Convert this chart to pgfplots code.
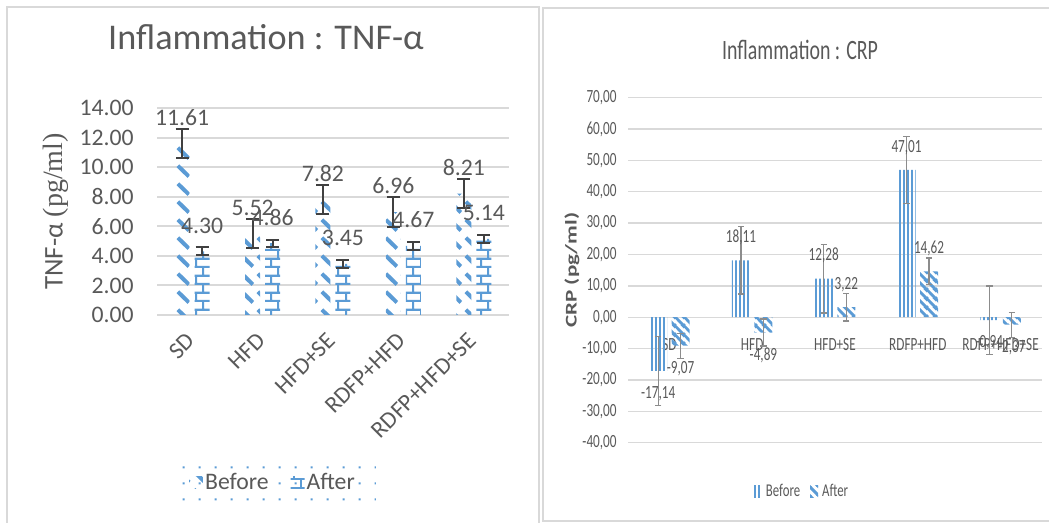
\documentclass[border=0pt]{standalone}
\usepackage{graphicx}
\usepackage{pgfplots}
\pgfplotsset{compat=1.18}
\usetikzlibrary{patterns}
\usepackage{fontspec}
\setmainfont{Carlito}
\newfontfamily\narrowfont[FakeStretch=0.71]{Carlito}
\newfontfamily\seriffont{Liberation Serif}
\definecolor{xlblue}{HTML}{5B9BD5}
\definecolor{txtgray}{HTML}{595959}
\definecolor{gridgray}{HTML}{D9D9D9}
\definecolor{framegray}{HTML}{D9D9D9}
\definecolor{errdark}{HTML}{404040}
\definecolor{errgray}{HTML}{8C8C8C}

\pgfdeclarepatternformonly{dashdiag}{\pgfpointorigin}{\pgfqpoint{8pt}{9pt}}{\pgfqpoint{8pt}{9pt}}{%
  \pgfsetlinewidth{2.1pt}\pgfsetbuttcap
  \pgfpathmoveto{\pgfqpoint{1pt}{8pt}}
  \pgfpathlineto{\pgfqpoint{6.8pt}{2.4pt}}
  \pgfusepath{stroke}}
\pgfdeclarepatternformonly{xbricks}{\pgfpointorigin}{\pgfqpoint{7.5pt}{8.5pt}}{\pgfqpoint{7.5pt}{8.5pt}}{%
  \pgfsetlinewidth{1.1pt}
  \pgfpathmoveto{\pgfqpoint{-1pt}{0.6pt}}\pgfpathlineto{\pgfqpoint{8.5pt}{0.6pt}}
  \pgfpathmoveto{\pgfqpoint{-1pt}{4.85pt}}\pgfpathlineto{\pgfqpoint{8.5pt}{4.85pt}}
  \pgfpathmoveto{\pgfqpoint{0.6pt}{0.6pt}}\pgfpathlineto{\pgfqpoint{0.6pt}{4.85pt}}
  \pgfpathmoveto{\pgfqpoint{4.35pt}{4.85pt}}\pgfpathlineto{\pgfqpoint{4.35pt}{9.5pt}}
  \pgfpathmoveto{\pgfqpoint{4.35pt}{-1pt}}\pgfpathlineto{\pgfqpoint{4.35pt}{0.6pt}}
  \pgfusepath{stroke}}
\pgfdeclarepatternformonly{vlines}{\pgfpointorigin}{\pgfqpoint{2.2pt}{10pt}}{\pgfqpoint{2.2pt}{10pt}}{%
  \pgfsetlinewidth{1pt}
  \pgfpathmoveto{\pgfqpoint{1.1pt}{-1pt}}\pgfpathlineto{\pgfqpoint{1.1pt}{11pt}}
  \pgfusepath{stroke}}
\pgfdeclarepatternformonly{widediag}{\pgfpointorigin}{\pgfqpoint{4.5pt}{4.5pt}}{\pgfqpoint{4.5pt}{4.5pt}}{%
  \pgfsetlinewidth{1.5pt}
  \pgfpathmoveto{\pgfqpoint{-0.5pt}{5pt}}\pgfpathlineto{\pgfqpoint{5pt}{-0.5pt}}
  \pgfpathmoveto{\pgfqpoint{-2.25pt}{2.25pt}}\pgfpathlineto{\pgfqpoint{2.25pt}{-2.25pt}}
  \pgfpathmoveto{\pgfqpoint{2.25pt}{6.75pt}}\pgfpathlineto{\pgfqpoint{6.75pt}{2.25pt}}
  \pgfusepath{stroke}}
\pgfdeclarepatternformonly{ldots}{\pgfpointorigin}{\pgfqpoint{8pt}{8pt}}{\pgfqpoint{8pt}{8pt}}{%
  \pgfpathrectangle{\pgfqpoint{3.5pt}{3.5pt}}{\pgfqpoint{1pt}{1pt}}\pgfusepath{fill}}

\begin{document}
\begin{tikzpicture}
\useasboundingbox (0pt,0pt) rectangle (524.5pt,261.5pt);
\draw[framegray, line width=1pt] (3.5pt,-3pt) -- (3.5pt,258pt) -- (269.5pt,258pt) -- (269.5pt,-3pt);
\draw[framegray, line width=1pt] (271.5pt,1pt) rectangle (527pt,257.5pt);
\node[text=txtgray, font=\fontsize{18.1}{21}\selectfont] at (133pt,243pt) {Inflammation : TNF-α};
\node[text=txtgray, font=\narrowfont\fontsize{14}{17}\selectfont] at (400pt,236.5pt) {Inflammation : CRP};

% ---------------- left: TNF-alpha
\begin{axis}[
  at={(78.5pt,104pt)}, anchor=south west,
  scale only axis, width=176pt, height=103.5pt,
  xmin=-0.5, xmax=4.5, ymin=0, ymax=14,
  ytick={0,2,...,14}, xtick={0,1,2,3,4},
  xticklabels={SD,HFD,HFD+SE,RDFP+HFD,RDFP+HFD+SE},
  axis line style={draw=none}, major tick length=0pt,
  ymajorgrids, grid style={gridgray, line width=1pt},
  ybar=2.5pt, bar width=7.5pt,
  /pgf/number format/.cd, fixed, fixed zerofill, precision=2, assume math mode=true,
  /pgfplots/.cd,
  tick label style={font=\fontsize{11.85}{14}\selectfont, text=txtgray},
  yticklabel style={anchor=east, inner sep=0pt, xshift=-11.5pt},
  xticklabel style={xshift=-3.5pt, yshift=-8pt, rotate=45, anchor=north east, inner sep=0pt},
  ylabel={\fontsize{13.5}{16}\selectfont TNF-α {\seriffont\fontsize{14}{16}\selectfont (pg/ml)}},
  ylabel style={at={(rel axis cs:-0.2869,0.5)}, anchor=center, text=txtgray},
  nodes near coords,
  every node near coord/.append style={font=\fontsize{11.85}{14}\selectfont, text=txtgray, inner ysep=8.75pt, inner xsep=0pt},
  legend columns=2,
  legend style={at={(0.3295,-0.8116)}, anchor=center, draw=none, pattern=ldots, pattern color=xlblue,
    font=\fontsize{11.85}{14}\selectfont, text=txtgray, inner xsep=9.5pt, inner ysep=8.5pt,
    nodes={fill=white, inner sep=1pt},
    /tikz/every even column/.append style={column sep=10pt}},
  legend image code/.code={\fill[#1] (0pt,-3pt) rectangle (7pt,3pt);},
  error bars/y dir=both, error bars/y explicit,
  error bars/error bar style={draw=errdark, line width=1pt},
  error bars/error mark options={rotate=90, draw=errdark, line width=1pt, mark size=3.25pt},
]
\addplot[draw=none, pattern=dashdiag, pattern color=xlblue] coordinates {
  (0,11.61) +- (0,1.00)
  (1,5.52)  +- (0,1.00)
  (2,7.82)  +- (0,1.00)
  (3,6.96)  +- (0,1.00)
  (4,8.21)  +- (0,1.00)
};
\addplot[draw=none, pattern=xbricks, pattern color=xlblue] coordinates {
  (0,4.30) +- (0,0.27)
  (1,4.86) +- (0,0.24)
  (2,3.45) +- (0,0.26)
  (3,4.67) +- (0,0.25)
  (4,5.14) +- (0,0.28)
};
\legend{Before,After}
\end{axis}

% ---------------- right: CRP
\begin{axis}[
  at={(314pt,40.15pt)}, anchor=south west,
  scale only axis, width=207pt, height=172.5pt,
  xmin=-0.5, xmax=4.5, ymin=-40, ymax=70,
  ytick={-40,-30,...,70}, xtick={0,1,2,3,4},
  xticklabels={SD,HFD,HFD+SE,RDFP+HFD,RDFP+HFD+SE},
  axis line style={draw=none}, major tick length=0pt,
  ymajorgrids, grid style={gridgray, line width=0.7pt},
  ybar=2.25pt, bar width=9pt,
  /pgf/number format/.cd, fixed, fixed zerofill, precision=2, use comma, assume math mode=true,
  /pgfplots/.cd,
  tick label style={font=\narrowfont\fontsize{9.3}{11}\selectfont, text=txtgray},
  yticklabel style={anchor=east, inner sep=0pt, xshift=-5.5pt},
  xticklabel style={anchor=center, inner sep=0pt, yshift=48.85pt},
  ylabel={\scalebox{1}[0.71]{\bfseries CRP (pg/ml)}},
  ylabel style={at={(rel axis cs:-0.1353,0.5)}, anchor=center, font=\fontsize{11.5}{14}\selectfont, text=txtgray},
  nodes near coords,
  every node near coord/.append style={font=\narrowfont\fontsize{9.3}{11}\selectfont, text=txtgray, inner ysep=7.5pt, inner xsep=0pt},
  legend columns=2,
  legend style={at={(0.4227,-0.1429)}, anchor=center, draw=none, fill=none,
    font=\narrowfont\fontsize{9}{11}\selectfont, text=txtgray, inner sep=1pt,
    /tikz/every even column/.append style={column sep=3pt}},
  legend image code/.code={\fill[#1] (0pt,-3pt) rectangle (4pt,3pt);},
  error bars/y dir=both, error bars/y explicit,
  error bars/error bar style={draw=errgray, line width=0.6pt},
  error bars/error mark options={rotate=90, draw=errgray, line width=0.6pt, mark size=1.6pt},
]
\addplot[draw=none, pattern=vlines, pattern color=xlblue] coordinates {
  (0,-17.14) +- (0,10.9)
  (1,18.11)  +- (0,10.7)
  (2,12.28)  +- (0,10.9)
  (3,47.01)  +- (0,10.7)
  (4,-0.94)  +- (0,10.9)
};
\addplot[draw=none, pattern=widediag, pattern color=xlblue] coordinates {
  (0,-9.07)  +- (0,4.0)
  (1,-4.89)  +- (0,4.3)
  (2,3.22)   +- (0,4.4)
  (3,14.62)  +- (0,4.3)
  (4,-2.37)  +- (0,4.0)
};
\legend{Before,After}
\end{axis}
\end{tikzpicture}
\end{document}
